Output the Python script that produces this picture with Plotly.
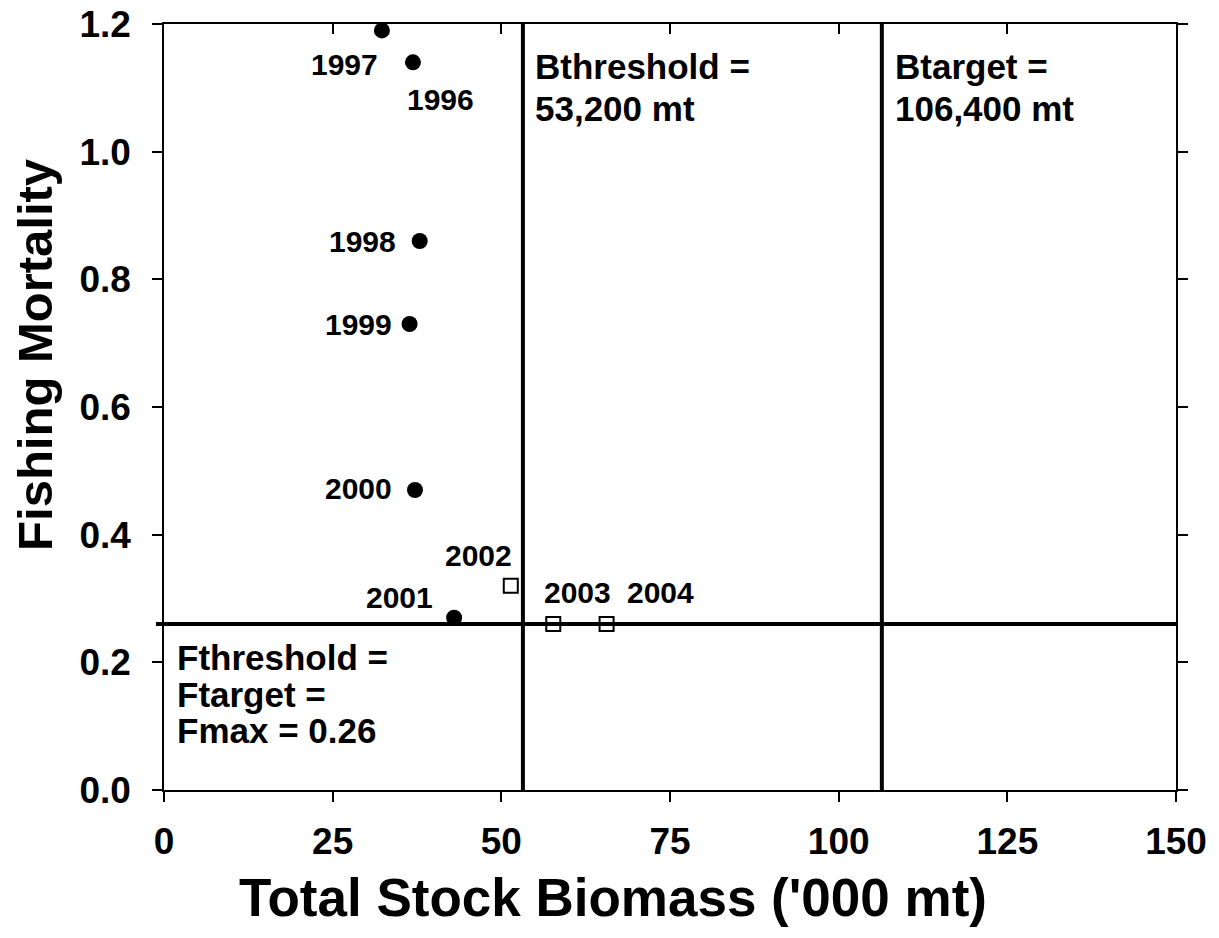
import plotly.graph_objects as go

# fishing mortality vs total stock biomass
years_hist = ["1996", "1997", "1998", "1999", "2000", "2001"]
biomass_hist = [36.9, 32.3, 37.9, 36.4, 37.2, 43.0]
f_hist = [1.14, 1.19, 0.86, 0.73, 0.47, 0.27]

years_proj = ["2002", "2003", "2004"]
biomass_proj = [51.4, 57.7, 65.6]
f_proj = [0.32, 0.26, 0.26]

B_THRESHOLD = 53.2
B_TARGET = 106.4
F_THRESHOLD = 0.26

x_ticks = [0, 25, 50, 75, 100, 125, 150]
y_ticks = [0.0, 0.2, 0.4, 0.6, 0.8, 1.0, 1.2]

FONT = "Liberation Sans, Arial, sans-serif"

fig = go.Figure()
fig.add_trace(
    go.Scatter(
        x=biomass_hist,
        y=f_hist,
        mode="markers",
        marker=dict(symbol="circle", size=16, color="black"),
        showlegend=False,
        cliponaxis=False,
    )
)
fig.add_trace(
    go.Scatter(
        x=biomass_proj,
        y=f_proj,
        mode="markers",
        marker=dict(
            symbol="square-open", size=14, color="black", line=dict(width=2)
        ),
        showlegend=False,
        cliponaxis=False,
    )
)

# reference lines
fig.add_shape(
    type="line", xref="x", yref="paper", x0=B_THRESHOLD, x1=B_THRESHOLD, y0=0, y1=1,
    line=dict(color="black", width=4),
)
fig.add_shape(
    type="line", xref="x", yref="paper", x0=B_TARGET, x1=B_TARGET, y0=0, y1=1,
    line=dict(color="black", width=4),
)
fig.add_shape(
    type="line", xref="paper", yref="y", x0=-0.008, x1=1.002, y0=F_THRESHOLD, y1=F_THRESHOLD,
    line=dict(color="black", width=4),
)

# year labels: (text, x, y, xanchor)
year_labels = [
    ("1997", 32.0, 1.136, "right"),
    ("1996", 35.7, 1.081, "left"),
    ("1998", 34.7, 0.86, "right"),
    ("1999", 34.1, 0.73, "right"),
    ("2000", 34.1, 0.472, "right"),
    ("2001", 40.1, 0.301, "right"),
    ("2002", 46.6, 0.368, "center"),
    ("2003", 56.1, 0.31, "left"),
    ("2004", 68.3, 0.31, "left"),
]
for txt, x, y, anchor in year_labels:
    fig.add_annotation(
        x=x, y=y, text=f"<b>{txt}</b>", showarrow=False, xanchor=anchor,
        yanchor="middle", font=dict(size=30, color="black", family=FONT),
    )

# reference point labels, one annotation per line: (text, x, y, size)
ref_labels = [
    ("Bthreshold =", 54.7, 1.133, 35),
    ("53,200 mt", 54.7, 1.068, 35),
    ("Btarget =", 108.0, 1.133, 35),
    ("106,400 mt", 108.0, 1.068, 35),
    ("Fthreshold =", 1.6, 0.208, 35),
    ("Ftarget =", 1.6, 0.150, 35),
    ("Fmax = 0.26", 1.6, 0.094, 35),
]
for txt, x, y, size in ref_labels:
    fig.add_annotation(
        x=x, y=y, text=f"<b>{txt}</b>", showarrow=False, xanchor="left",
        yanchor="middle", font=dict(size=size, color="black", family=FONT),
    )

# axis titles (centred on the page rather than on the plot area)
fig.add_annotation(
    xref="paper", yref="paper", x=0.4437, y=-0.1397,
    text="<b>Total Stock Biomass ('000 mt)</b>", showarrow=False,
    xanchor="center", yanchor="middle", font=dict(size=53, color="black", family=FONT),
)
fig.add_annotation(
    xref="paper", yref="paper", x=-0.1275, y=0.568,
    text="<b>Fishing Mortality</b>", showarrow=False, textangle=-90,
    xanchor="center", yanchor="middle", font=dict(size=49, color="black", family=FONT),
)

fig.update_layout(
    width=1219,
    height=938,
    margin=dict(l=156, r=51, t=16, b=156),
    plot_bgcolor="white",
    paper_bgcolor="white",
    font=dict(family=FONT, color="black"),
    xaxis=dict(
        range=[0, 150],
        tickvals=x_ticks,
        ticktext=[f"<b>{v}</b>" for v in x_ticks],
        tickfont=dict(size=37),
        ticks="outside",
        ticklen=10,
        tickwidth=1.5,
        tickcolor="black",
        ticklabelstandoff=8,
        ticklabeloverflow="allow",
        showline=True,
        linecolor="black",
        linewidth=1.5,
        mirror=True,
        showgrid=False,
        zeroline=False,
        automargin=False,
    ),
    xaxis2=dict(
        range=[0, 150],
        overlaying="x",
        side="top",
        tickvals=x_ticks,
        showticklabels=False,
        ticks="inside",
        ticklen=10,
        tickwidth=1.5,
        tickcolor="black",
        showgrid=False,
        zeroline=False,
        automargin=False,
    ),
    yaxis=dict(
        range=[0, 1.2],
        tickvals=y_ticks,
        ticktext=[f"<b>{v:.1f}</b>" for v in y_ticks],
        tickfont=dict(size=37),
        ticks="outside",
        ticklen=10,
        tickwidth=1.5,
        tickcolor="black",
        ticklabelstandoff=14,
        ticklabeloverflow="allow",
        showline=True,
        linecolor="black",
        linewidth=1.5,
        mirror="ticks",
        showgrid=False,
        zeroline=False,
        automargin=False,
    ),
)
# dummy trace to show the top axis ticks
fig.add_trace(
    go.Scatter(x=[None], y=[None], xaxis="x2", showlegend=False, hoverinfo="skip")
)

fig.write_html("out.html")
